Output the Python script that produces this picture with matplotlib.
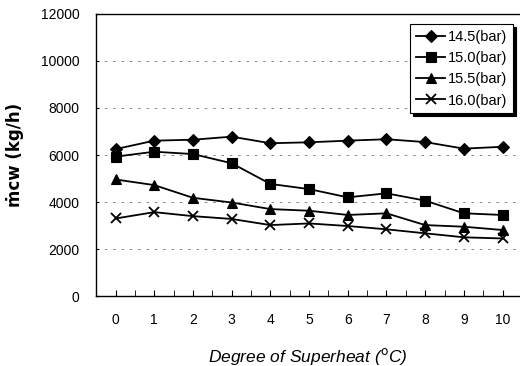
import matplotlib
matplotlib.use('Agg')
import matplotlib.pyplot as plt

# degree of superheat (deg C)
superheat = [0, 1, 2, 3, 4, 5, 6, 7, 8, 9, 10]

# cooling water flow rate (kg/h) for each condensing pressure
flow_145 = [6250, 6610, 6650, 6780, 6500, 6540, 6610, 6670, 6550, 6270, 6350]
flow_150 = [5930, 6140, 6040, 5650, 4770, 4550, 4200, 4370, 4060, 3520, 3450]
flow_155 = [4960, 4720, 4180, 3980, 3700, 3630, 3450, 3520, 3020, 2950, 2810]
flow_160 = [3300, 3570, 3400, 3280, 3020, 3090, 2980, 2840, 2670, 2500, 2450]

labels = ['14.5(bar)', '15.0(bar)', '15.5(bar)', '16.0(bar)']
markers = ['D', 's', '^', 'x']
y_ticks = [0, 2000, 4000, 6000, 8000, 10000, 12000]

plt.rcParams['font.family'] = ['Liberation Sans', 'DejaVu Sans']

fig = plt.figure(figsize=(5.2, 3.66), dpi=100)
ax = fig.add_axes([0.185, 0.191, 0.815, 0.771])

series = [flow_145, flow_150, flow_155, flow_160]
sizes = [6.5, 7, 6.5, 7]
for vals, lab, mk, ms in zip(series, labels, markers, sizes):
    ax.plot(superheat, vals, color='black', lw=1.3, marker=mk, markersize=ms,
            markeredgewidth=1.3 if mk == 'x' else 0.8, label=lab)

# faint dashed grid lines
for yv in y_ticks[1:-1]:
    ax.axhline(yv, color='0.45', lw=0.6, ls=(0, (3, 7)), zorder=0)

ax.set_xlim(-0.5, 10.45)
ax.set_ylim(0, 12000)
ax.set_xticks(superheat)
ax.set_xticks([x + 0.5 for x in superheat[:-1]], minor=True)
ax.set_yticks(y_ticks)
ax.tick_params(axis='x', which='both', direction='in', length=4, pad=12, labelsize=10)
ax.tick_params(axis='y', direction='in', length=2, pad=12, labelsize=10)

ax.spines['right'].set_visible(False)
for s in ['left', 'bottom', 'top']:
    ax.spines[s].set_linewidth(1.0)

ax.set_xlabel('Degree of Superheat ($^{\\mathrm{o}}$C)', fontsize=12.5, fontstyle='italic',
              labelpad=14)
ax.set_ylabel('\u1e41cw (kg/h)', fontsize=12, fontweight='bold', labelpad=12,
              family=['DejaVu Sans'])

leg = ax.legend(loc='upper right', bbox_to_anchor=(0.99, 0.975), fontsize=10.5,
                frameon=True, fancybox=False, shadow={'color': 'black', 'alpha': 1},
                handlelength=2.0, handletextpad=0.15, borderpad=0.4, labelspacing=0.5,
                borderaxespad=0.2)
leg.get_frame().set_edgecolor('black')
leg.get_frame().set_linewidth(0.8)

fig.savefig('out.png', dpi=100)
